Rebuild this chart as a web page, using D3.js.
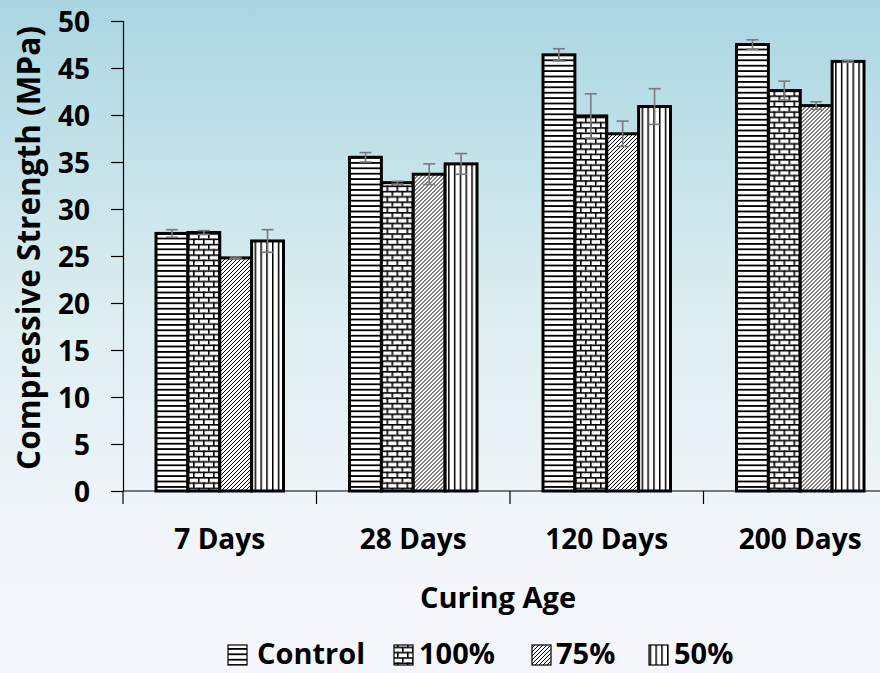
<!DOCTYPE html>
<html>
<head>
<meta charset="utf-8">
<script src="https://cdn.jsdelivr.net/npm/d3@7"></script>
<style>
  html, body { margin: 0; padding: 0; }
  body { width: 880px; height: 673px; overflow: hidden; }
  text { font-family: "Open Sans", "Noto Sans", sans-serif; font-weight: 700; fill: #000; }
</style>
</head>
<body>
<svg id="chart" width="880" height="673"></svg>
<script>
// Curing ages and mix series
const ages = ["7 Days", "28 Days", "120 Days", "200 Days"];
const mixes = ["Control", "100%", "75%", "50%"];

// Mean compressive strength (MPa) per mix, one value per curing age
const control = [27.4, 35.5, 46.4, 47.5];
const mix100 = [27.5, 32.8, 39.9, 42.6];
const mix75 = [24.8, 33.7, 38.0, 41.0];
const mix50 = [26.6, 34.8, 40.9, 45.7];

// Standard deviation per mix, one value per curing age
const errControl = [0.4, 0.5, 0.65, 0.5];
const err100 = [0.2, 0.15, 2.35, 1.0];
const err75 = [0.1, 1.1, 1.35, 0.4];
const err50 = [1.2, 1.1, 1.9, 0.1];

const yTicks = [0, 5, 10, 15, 20, 25, 30, 35, 40, 45, 50];

const values = [control, mix100, mix75, mix50];
const errors = [errControl, err100, err75, err50];

const svg = d3.select("#chart");
const W = 880, H = 673;
const defs = svg.append("defs");

// Background wash: pale blue at the top fading to white
const bg = defs.append("linearGradient").attr("id", "bg")
  .attr("x1", 0).attr("y1", 0).attr("x2", 0).attr("y2", 1);
bg.append("stop").attr("offset", "0%").attr("stop-color", "#a9d6e2");
bg.append("stop").attr("offset", "45%").attr("stop-color", "#dbedf0");
bg.append("stop").attr("offset", "80%").attr("stop-color", "#f2f5fa");
bg.append("stop").attr("offset", "100%").attr("stop-color", "#f6f7fc");
svg.append("rect").attr("width", W).attr("height", H).attr("fill", "url(#bg)");

// Fill patterns, one per mix
function pattern(id, w, h, draw) {
  const p = defs.append("pattern").attr("id", id)
    .attr("patternUnits", "userSpaceOnUse").attr("width", w).attr("height", h);
  p.append("rect").attr("width", w).attr("height", h).attr("fill", "#fff");
  draw(p);
}
pattern("pControl", 8, 5.4, p => {
  p.append("rect").attr("x", 0).attr("y", 0).attr("width", 8).attr("height", 1.8).attr("fill", "#000");
});
pattern("p100", 10, 10.6, p => {
  p.append("rect").attr("x", 0).attr("y", 0).attr("width", 10).attr("height", 1.6).attr("fill", "#000");
  p.append("rect").attr("x", 0).attr("y", 5.3).attr("width", 10).attr("height", 1.6).attr("fill", "#000");
  p.append("rect").attr("x", 2).attr("y", 0).attr("width", 1.6).attr("height", 5.3).attr("fill", "#000");
  p.append("rect").attr("x", 7).attr("y", 5.3).attr("width", 1.6).attr("height", 5.3).attr("fill", "#000");
});
pattern("p75", 4, 4, p => {
  p.append("path").attr("d", "M-1,5 L5,-1 M-1,1 L1,-1 M3,5 L5,3")
    .attr("stroke", "#000").attr("stroke-width", 1);
});
pattern("p50", 5.8, 8, p => {
  p.append("rect").attr("x", 0).attr("y", 0).attr("width", 1.5).attr("height", 8).attr("fill", "#000");
});
const fills = ["url(#pControl)", "url(#p100)", "url(#p75)", "url(#p50)"];

// Scales
const x0 = d3.scaleBand().domain(ages).range([123, 897]).paddingInner(0).paddingOuter(0);
const groupPad = 33;
const x1 = d3.scaleBand().domain(mixes).range([0, x0.bandwidth() - 2 * groupPad]).padding(0);
const y = d3.scaleLinear().domain([0, 50]).range([491, 21]);

// Y axis
const yAxis = d3.axisLeft(y).tickValues(yTicks).tickSize(12).tickPadding(21);
const gy = svg.append("g").attr("transform", "translate(123,0)").call(yAxis);
gy.select(".domain").attr("stroke", "#000").attr("stroke-width", 1.2);
gy.selectAll(".tick line").attr("stroke", "#000").attr("stroke-width", 1.2);
gy.selectAll(".tick text").attr("font-size", 28).attr("font-family", "'Open Sans', sans-serif")
  .attr("font-weight", 700).attr("fill", "#000").attr("dy", "0.36em");

// X axis: category boundaries ticked below the baseline
const gx = svg.append("g");
gx.append("line").attr("x1", 123).attr("x2", 897).attr("y1", y(0)).attr("y2", y(0))
  .attr("stroke", "#000").attr("stroke-width", 1.2);
const bounds = ages.map(a => x0(a)).concat([x0(ages[ages.length - 1]) + x0.bandwidth()]);
gx.selectAll("line.b").data(bounds).join("line").attr("class", "b")
  .attr("x1", d => d).attr("x2", d => d).attr("y1", y(0)).attr("y2", y(0) + 13)
  .attr("stroke", "#000").attr("stroke-width", 1.2);
gx.selectAll("text.cat").data(ages).join("text").attr("class", "cat")
  .attr("x", d => x0(d) + x0.bandwidth() / 2).attr("y", 549)
  .attr("text-anchor", "middle").attr("font-size", 28).text(d => d);

// Bars
const groups = svg.append("g").selectAll("g").data(ages).join("g")
  .attr("transform", d => `translate(${x0(d) + groupPad},0)`);
groups.each(function (age, ai) {
  const g = d3.select(this);
  mixes.forEach((m, mi) => {
    const v = values[mi][ai];
    g.append("rect")
      .attr("x", x1(m)).attr("width", x1.bandwidth())
      .attr("y", y(v)).attr("height", y(0) - y(v))
      .attr("fill", fills[mi]).attr("stroke", "#000").attr("stroke-width", 3);
  });
  // Error bars
  mixes.forEach((m, mi) => {
    const v = values[mi][ai], e = errors[mi][ai];
    const cx = x1(m) + x1.bandwidth() / 2;
    const eg = g.append("g").attr("stroke", "#7a7a7a").attr("stroke-width", 1.6);
    eg.append("line").attr("x1", cx).attr("x2", cx).attr("y1", y(v + e)).attr("y2", y(v - e));
    eg.append("line").attr("x1", cx - 6).attr("x2", cx + 6).attr("y1", y(v + e)).attr("y2", y(v + e));
    eg.append("line").attr("x1", cx - 6).attr("x2", cx + 6).attr("y1", y(v - e)).attr("y2", y(v - e));
  });
});

// Axis titles
svg.append("text").attr("transform", "translate(40,248) rotate(-90)")
  .attr("text-anchor", "middle").attr("font-size", 31.5).text("Compressive Strength (MPa)");
svg.append("text").attr("x", 498).attr("y", 608).attr("text-anchor", "middle")
  .attr("font-size", 29).text("Curing Age");

// Legend
const swatchX = [228, 394, 532, 649];
const labelX = [257, 419, 556, 674];
const lg = svg.append("g").selectAll("g").data(mixes).join("g");
lg.append("rect").attr("x", (d, i) => swatchX[i]).attr("y", 645).attr("width", 19).attr("height", 20)
  .attr("fill", (d, i) => fills[i]).attr("stroke", "#000").attr("stroke-width", 1.2);
lg.append("text").attr("x", (d, i) => labelX[i]).attr("y", 664).attr("font-size", 29).text(d => d);
</script>
</body>
</html>
